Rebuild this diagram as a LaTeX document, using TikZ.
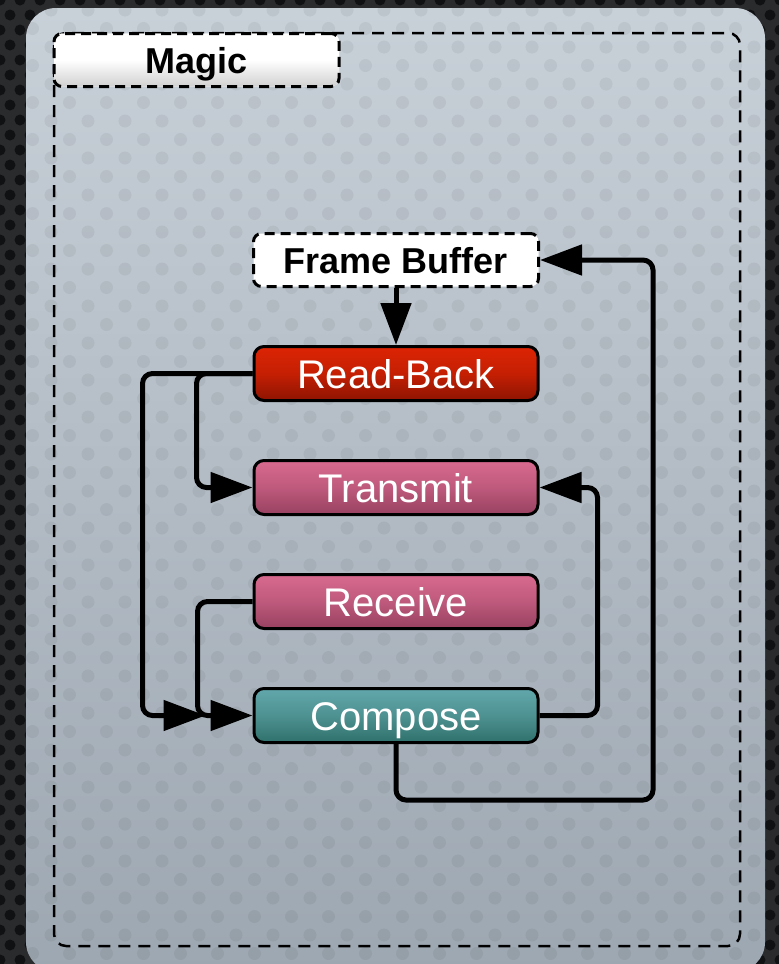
\documentclass[tikz,border=0pt]{standalone}
\usepackage{fontspec}
\setmainfont{Liberation Sans}
\usetikzlibrary{positioning,arrows.meta}
\definecolor{backdrop}{HTML}{2A2B2D}
\definecolor{paneltop}{HTML}{C8D0D8}
\definecolor{panelbot}{HTML}{9DA7B1}
\definecolor{redtop}{HTML}{DC2404}
\definecolor{redbot}{HTML}{8E1402}
\definecolor{pinktop}{HTML}{D86A8F}
\definecolor{pinkbot}{HTML}{984160}
\definecolor{tealtop}{HTML}{62A7AB}
\definecolor{tealbot}{HTML}{2F716B}
\tikzset{
  stage/.style={draw, line width=3pt, rounded corners=10pt, minimum width=284pt, minimum height=54pt,
    inner sep=0pt, text height=29pt, text depth=0pt, text=white, font=\fontsize{40}{44}\selectfont},
  readstage/.style={stage, top color=redtop, bottom color=redbot, middle color=redtop!70!redbot},
  linkstage/.style={stage, top color=pinktop, bottom color=pinkbot, middle color=pinktop!60!pinkbot},
  mixstage/.style={stage, top color=tealtop, bottom color=tealbot, middle color=tealtop!60!tealbot},
  buffer/.style={draw, dash pattern=on 10pt off 6pt, line width=3pt, fill=white, rounded corners=8pt,
    minimum width=285pt, minimum height=53pt, inner sep=0pt, text height=26pt, text depth=0pt,
    font=\fontsize{36}{40}\selectfont\bfseries},
  tab/.style={buffer, top color=white, bottom color=black!18, middle color=white},
  arrow/.style={-{Triangle[length=42pt,width=30pt]}, line width=5pt, rounded corners=10pt},
  dimple/.style={fill=black, opacity=0.05}
}
\begin{document}
\begin{tikzpicture}[x=1pt, y=1pt, node distance=57pt]
  \useasboundingbox (0,0) rectangle (779,-964);
  % dotted backdrop and the textured panel
  \fill[backdrop] (0,0) rectangle (779,-964);
  \foreach \r in {0,...,64}
    \foreach \c in {0,...,40}
      \fill[black, opacity=0.6] ({\c*20+10*mod(\r,2)},{-\r*15}) circle (5.5);
  \shade[top color=paneltop, bottom color=panelbot, rounded corners=30pt] (26,-8) rectangle (765,-972);
  \begin{scope}
    \clip[rounded corners=30pt] (26,-8) rectangle (765,-972);
    \foreach \r in {0,...,53}
      \foreach \c in {0,...,21}
        \fill[dimple] ({14+\c*37+18.5*mod(\r,2)},{-10-\r*18.5}) circle (6.5);
  \end{scope}
  \draw[dash pattern=on 12pt off 8pt, line width=2.5pt, rounded corners=12pt] (54,-33) rectangle (740,-946);

  \node[tab] (magic) at (196.5,-60) {Magic};

  \node[buffer] (fb) at (396,-260) {Frame Buffer};
  \node[readstage, below=of fb] (rb) {Read-Back};
  \node[linkstage, below=of rb] (tx) {Transmit};
  \node[linkstage, below=of tx] (rc) {Receive};
  \node[mixstage, below=of rc] (cp) {Compose};

  \draw[arrow] (fb) -- (rb);
  \draw[arrow, shorten >=47pt] (rb.west) -- ++(-110,0) |- (cp.west);
  \draw[arrow] (rb.west) -- ++(-56,0) |- (tx.west);
  \draw[arrow] (rc.west) -- ++(-55,0) |- (cp.west);
  \draw[arrow] (cp.east) -- ++(58,0) |- (tx.east);
  \draw[arrow] (cp.south) -- ++(0,-56) -| ([xshift=113pt]fb.east) -- (fb.east);
\end{tikzpicture}
\end{document}
